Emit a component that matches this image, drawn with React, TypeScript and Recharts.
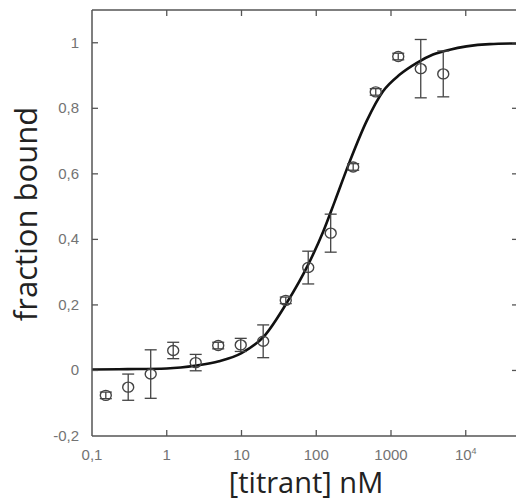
import { ComposedChart, Line, Scatter, ErrorBar, XAxis, YAxis } from 'recharts';

// measured points (concentration in nM, fraction bound, error)
const conc = [0.153, 0.305, 0.61, 1.22, 2.44, 4.88, 9.77, 19.5, 39.1, 78.1, 156, 312, 625, 1250, 2500, 5000];
const bound = [-0.076, -0.051, -0.011, 0.061, 0.024, 0.076, 0.078, 0.089, 0.214, 0.314, 0.419, 0.621, 0.85, 0.958, 0.921, 0.905];
const errs = [0.01, 0.04, 0.074, 0.025, 0.025, 0.01, 0.02, 0.05, 0.01, 0.05, 0.058, 0.01, 0.01, 0.01, 0.089, 0.07];

// fit curve
const fitX = [0.1, 0.3, 1, 2.5, 5, 10, 20, 40, 78, 124, 177, 281, 470, 783, 1312, 2190, 3650, 6110, 10200, 20900, 50000];
const fitY = [0.003, 0.004, 0.006, 0.015, 0.028, 0.053, 0.104, 0.205, 0.323, 0.424, 0.516, 0.638, 0.76, 0.852, 0.903, 0.938, 0.964, 0.979, 0.989, 0.996, 0.998];

const xTicks = [0.1, 1, 10, 100, 1000, 10000];
const xTickLabels = ['0,1', '1', '10', '100', '1000', '10^4'];
const yTicks = [-0.2, 0, 0.2, 0.4, 0.6, 0.8, 1];
const yTickLabels = ['-0,2', '0', '0,2', '0,4', '0,6', '0,8', '1'];

const points = conc.map((x, i) => ({ x, y: bound[i], err: errs[i] }));
const fit = fitX.map((x, i) => ({ x, y: fitY[i] }));

const AXIS = '#555';
const LABEL = '#737373';
const tickFont = '"Liberation Sans", Arial, sans-serif';

const BottomTick = (props: any) => {
  const { x, y, index } = props;
  const lab = xTickLabels[index];
  return (
    <g>
      {index > 0 && <line x1={x} x2={x} y1={y} y2={y - 6} stroke={AXIS} strokeWidth={1.3} />}
      <text x={x} y={y + 24} textAnchor="middle" fill={LABEL} fontSize={15} fontFamily={tickFont}>
        {lab === '10^4' ? (
          <>
            10<tspan dy={-6} fontSize={9}>4</tspan>
          </>
        ) : (
          lab
        )}
      </text>
    </g>
  );
};

const TopTick = (props: any) => {
  const { x, y, index } = props;
  if (index === 0) return <g />;
  return <line x1={x} x2={x} y1={y} y2={y + 6} stroke={AXIS} strokeWidth={1.3} />;
};

const LeftTick = (props: any) => {
  const { x, y, index } = props;
  return (
    <g>
      {index > 0 && <line x1={x} x2={x + 6} y1={y} y2={y} stroke={AXIS} strokeWidth={1.3} />}
      <text x={x - 13} y={y + 5} textAnchor="end" fill={LABEL} fontSize={15} fontFamily={tickFont}>
        {yTickLabels[index]}
      </text>
    </g>
  );
};

const RightTick = (props: any) => {
  const { x, y, index } = props;
  if (index === 0) return <g />;
  return <line x1={x} x2={x - 6} y1={y} y2={y} stroke={AXIS} strokeWidth={1.3} />;
};

const Marker = (props: any) => {
  const { cx, cy } = props;
  return <ellipse cx={cx} cy={cy} rx={5.5} ry={5} fill="none" stroke="#444" strokeWidth={1.4} />;
};

export default function App() {
  return (
    <div style={{ position: 'absolute', left: 0, top: 0, width: 516, height: 501, overflow: 'hidden', background: '#fff' }}>
      <ComposedChart width={540} height={501} margin={{ top: 9, right: 21, left: 0, bottom: 0 }}>
        <XAxis
          xAxisId="b"
          dataKey="x"
          type="number"
          scale="log"
          domain={[0.1, 50000]}
          ticks={xTicks}
          allowDataOverflow
          height={65}
          tickSize={0}
          tickMargin={0}
          tick={<BottomTick />}
          axisLine={{ stroke: AXIS, strokeWidth: 1.5 }}
          tickLine={false}
        />
        <XAxis
          xAxisId="t"
          orientation="top"
          dataKey="x"
          type="number"
          scale="log"
          domain={[0.1, 50000]}
          ticks={xTicks}
          allowDataOverflow
          height={1}
          tickSize={0}
          tickMargin={0}
          tick={<TopTick />}
          axisLine={{ stroke: AXIS, strokeWidth: 1.5 }}
          tickLine={false}
        />
        <YAxis
          yAxisId="l"
          dataKey="y"
          type="number"
          domain={[-0.2, 1.1]}
          ticks={yTicks}
          allowDataOverflow
          width={92}
          tickSize={0}
          tickMargin={0}
          tick={<LeftTick />}
          axisLine={{ stroke: AXIS, strokeWidth: 1.5 }}
          tickLine={false}
        />
        <YAxis
          yAxisId="r"
          orientation="right"
          dataKey="y"
          type="number"
          domain={[-0.2, 1.1]}
          ticks={yTicks}
          allowDataOverflow
          width={1}
          tickSize={0}
          tickMargin={0}
          tick={<RightTick />}
          axisLine={{ stroke: AXIS, strokeWidth: 1.5 }}
          tickLine={false}
        />
        {/* invisible copy so the mirrored top/right axes get drawn */}
        <Line
          xAxisId="t"
          yAxisId="r"
          data={fit}
          dataKey="y"
          stroke="none"
          dot={false}
          activeDot={false}
          isAnimationActive={false}
        />
        <Line
          xAxisId="b"
          yAxisId="l"
          data={fit}
          dataKey="y"
          type="monotone"
          stroke="#111"
          strokeWidth={2.6}
          dot={false}
          isAnimationActive={false}
        />
        <Scatter xAxisId="b" yAxisId="l" data={points} dataKey="y" shape={<Marker />} isAnimationActive={false}>
          <ErrorBar dataKey="err" direction="y" width={6} stroke="#444" strokeWidth={1.3} isAnimationActive={false} />
        </Scatter>
      </ComposedChart>
      <svg width={516} height={501} style={{ position: 'absolute', left: 0, top: 0, pointerEvents: 'none' }}>
        <text x={306} y={493} textAnchor="middle" fontSize={29} fontFamily='"Open Sans", sans-serif' fill="#222">
          [titrant] nM
        </text>
        <text
          transform="translate(37,214) rotate(-90)"
          textAnchor="middle"
          fontSize={31}
          fontFamily='"Open Sans", sans-serif'
          fill="#222"
        >
          fraction bound
        </text>
      </svg>
    </div>
  );
}
